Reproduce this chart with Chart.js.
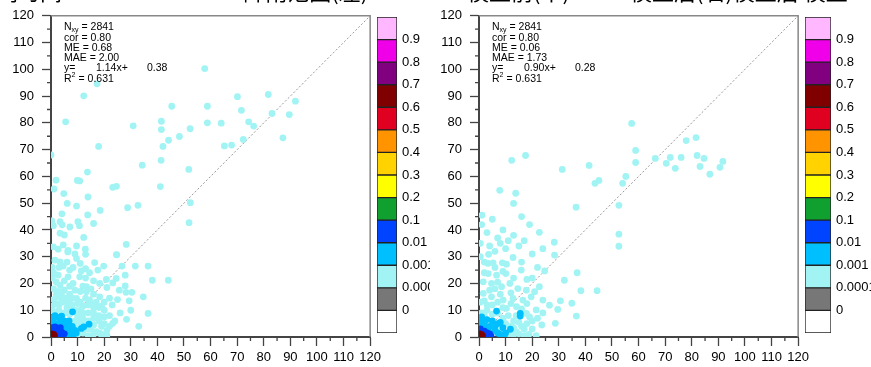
<!DOCTYPE html>
<html>
<head>
<meta charset="utf-8">
<script src="https://cdn.jsdelivr.net/npm/chart.js@4/dist/chart.umd.min.js"></script>
<style>
 body { margin:0; background:#fff; }
 #wrap { position:relative; width:871px; height:367px; overflow:hidden; background:#fff; }
 canvas { position:absolute; top:0; }
 .ttl { position:absolute; top:-21px; font:22px "Noto Sans CJK SC"; white-space:nowrap; color:#000; line-height:22px; z-index:10; }
</style>
</head>
<body>
<div id="wrap">
 <div class="ttl" style="left:-4px">同时间　2015-2018</div>
 <div class="ttl" style="left:196px">SOM降雨范围(左)</div>
 <div class="ttl" style="left:467px">模型前(中)</div>
 <div class="ttl" style="left:630px">模型后(右)模型后 模型</div>
 <canvas id="scL" width="385" height="367" style="left:0;z-index:1"></canvas>
 <canvas id="cbL" width="60" height="367" style="left:377px;z-index:2"></canvas>
 <canvas id="scR" width="383" height="367" style="left:430px;z-index:3;background:#fff"></canvas>
 <canvas id="cbR" width="66" height="367" style="left:805px;z-index:4"></canvas>
</div>
<script>
// ---------------- donnees ----------------
var axeTicks = [0, 10, 20, 30, 40, 50, 60, 70, 80, 90, 100, 110, 120];

// colorbar : du bas vers le haut
var barreCouleurs = ['#ffffff', '#777777', '#a2f4f4', '#00bfff', '#0044ff', '#10a030', '#ffff00',
                     '#ffd200', '#ff9400', '#e00020', '#800000', '#800080', '#f000e8', '#ffb8ff'];
var barreLabels = ['0', '0.0001', '0.001', '0.01', '0.1', '0.2', '0.3', '0.4', '0.5', '0.6', '0.7', '0.8', '0.9'];

// stats : N, cor, ME, MAE, pente, ordonnee, R2
var statsGauche = ['2841', '0.80', '0.68', '2.00', '1.14', '0.38', '0.631'];
var statsDroite = ['2841', '0.80', '0.06', '1.73', '0.90', '0.28', '0.631'];

var diagonale = [[0, 0], [120, 120]];

// panneau gauche
var gaucheRouge = [[0.5,0.5],[1,1],[0.3,1.2],[1.3,0.4],[0.8,0.2]];
var gaucheBleu = [[0.5,2.5],[1.5,2],[2.5,1.5],[3.5,0.8],[4.5,0.5],[2,0.5],[3,2.5],[1,3],[0.3,3.5],[4,1.8],
  [2.5,3.2],[5,1.2],[1.5,3.8],[3.5,3.5]];
var gaucheCiel = [[0.5,7],[2,7.5],[3.5,6.5],[5,6],[6.5,5],[8,4],[9,2.5],[8.5,1],[6,0.5],[7,3],[4,4],[1,5.5],
  [2.5,5],[5.5,2.5],[3,3.5],[8.1,9.4],[14.3,4.8],[11.4,3.2],[12.3,3.8],[7.5,0.3],[0.3,5],[6,4],[7.5,1.8],
  [5,4.5],[4,7.8],[1.5,8],[9.5,1.5],[6.8,6]];
var gaucheCyan = [[17.3,94.6],[12.3,90.1],[5.5,80.4],[0,68],[70.1,89.8],[81.7,90.6],[91.9,88.1],[45.4,86.2],
  [58.8,86.2],[71.6,84.7],[83.1,83.5],[89.6,83.1],[57.8,100.3],[30.9,78.9],[41.5,80.6],[41.5,77.5],[52.3,77.8],
  [58.8,80.0],[64.0,79.9],[74.3,80.4],[76.2,78.8],[48.3,74.9],[44.2,73.5],[72.3,73.8],[87.2,74.4],[42.1,71.2],
  [65.2,71.4],[67.9,71.7],[17.9,71.2],[41.4,66.0],[34.3,64.2],[51.8,62.6],[13.7,61.6],[1.9,58.6],[9.9,58.5],
  [10.8,58.3],[1.1,55.3],[4.8,53.6],[23.2,55.9],[24.6,56.3],[41.1,56.2],[13.9,52.3],[6.1,49.9],[9.6,48.9],
  [32.7,49.2],[28.8,48.3],[52.4,50.2],[18.5,47.3],[4.1,46.0],[13.8,45.6],[51.9,42.7],[16.0,42.4],[0.3,43.4],
  [0.9,41.6],[3.4,43.1],[4.2,41.9],[7.1,41.1],[10.1,43.1],[10.7,41.6],[3.4,38.8],[5.0,38.1],[12.3,37.2],
  [4.6,34.4],[9.6,34.0],[0.9,33.7],[2.7,32.8],[6.4,32.4],[12.9,32.8],[13.0,30.9],[28.3,34.6],[24.6,30.8],
  [6.3,31.8],[24.7,30.7],[1.5,28.7],[3.4,28.1],[9.6,29.3],[16.4,27.8],[19.8,26.5],[26.7,26.5],[31.7,26.5],
  [36.5,26.5],[4.6,26.5],[8.3,26.0],[11.4,24.7],[14.5,24.0],[17.6,25.0],[27.9,23.1],[10.8,22.5],[6.4,22.5],
  [2.7,23.1],[20.8,21.5],[24.5,21.9],[38.1,21.2],[44.1,21.2],[18.3,20.0],[23.2,20.2],[8.3,20.0],[3.4,19.4],
  [13.3,18.8],[27.9,19.1],[25.7,17.5],[28.2,16.7],[30.4,16.7],[34.7,15.0],[29.4,13.5],[2.7,15.0],[5.9,14.4],
  [9.6,14.4],[14.5,13.8],[18.3,15.0],[13.3,16.9],[36.5,8.8],[28.4,6.6],[23.2,5.1],[18.3,1.4],[21.0,0.7],
  [10,8],[12,7],[11,10],[14,9],[16,7],[18,8],[13,5],[15,3],[17,2],[19,4],[9,6],[10,1],[12,1.5],[7,8.5],[5,9],
  [3,10],[1,9.5],[0.5,11.5],[2,12.5],[6,11],[4,13],[8,12],[10,12.5],[12,11.5],[14,12],[16,11],[20,10],[22,8],
  [24,6],[19,1],[21,2.5],[7,16],[11,17],[16,16],[20,13],[23,12],[5,17.5],[1,18],[0.5,22],[0.5,26],[9,4.5],[11,5.5],
  [1,14],[3,12],[5,14.5],[7,12.5],[9,10],[11,13],[13,14.5],[15,12.5],[17,13],[19,11.5],[18,6],[20,5],[22,4],
  [16,1],[14,0.5],[12,3],[10,3],[14,6],[16,9],[18,11],[6,9.5],[8,10],[10,6.5],[12,9],[14,3],[16,4.5],[20,7.5],
  [2,16],[4,15.5],[8,14.5],[6,13],[3,17],[9,17.5],[12,19],[15,18],[7,19],[5,21],[2,20.5],[1,24],[3,26],
  [7,25],[6,28],[11,27.5],[13,22],[16,21],[21,18.5],[22,14.5],[25,14],[26,9],[30,10],[33,4],[13,25.5],[9,31]];

// panneau droit
var droiteRouge = [[0.5,0.5],[1,0.9],[1.3,0.3],[0.3,1.2],[0.8,0.2]];
var droiteBleu = [[0.5,2],[1.5,1.5],[2.5,0.8],[3.5,0.5],[4.5,0.4],[1,0.3],[3,1.5],[2,2.2],[0.5,3],[4,1.2]];
var droiteCiel = [[1,6],[3,6.5],[5,6],[7,5],[9,3.5],[10,1.5],[8,1],[6,2.5],[4,4],[2,3],[6.6,9.7],[15.5,7.8],
  [15.5,8.8],[11.8,2.9],[0.5,4.5],[8,5.5],[2,5],[6,4],[3.5,2.5],[9.5,0.5],[7,1.5],[1,7.5]];
var droiteCyan = [[57.4,79.8],[58.9,69.7],[58.9,65.2],[66.3,66.7],[70.4,64.9],[71.9,67.1],[76.0,67.1],[77.9,73.4],
  [81.6,74.5],[82.0,67.8],[84.6,66.7],[86.8,60.8],[91.7,65.6],[90.6,63.4],[83.1,63.7],[73.8,63.0],[55.2,60.0],
  [54.0,57.4],[52.6,49.2],[45.1,58.5],[43.6,57.4],[41.4,64.1],[31.3,62.6],[36.5,48.5],[28.3,35.4],[22.7,39.1],
  [12.3,66.0],[17.5,67.8],[13.8,53.7],[13.0,49.9],[7.8,54.8],[1.1,45.5],[52.6,38.4],[52.6,33.9],
  [1,42],[3,39],[5,44],[7,37],[9,40],[11,36],[4,34],[6,32],[8,35],[10,33],[13,38],[15,34],[17,36],[19,42],
  [16,45],[20,31],[24,33],[3.6,30.9],[12.8,29.7],[28.4,30.6],[15.9,25],[24.7,24.7],[36.9,24.0],[32.1,21.2],
  [38.3,17.3],[44.4,17.3],[34.9,12.6],[29.6,10.3],[30.6,13.5],[36.6,7.8],[28.7,5.1],[23.6,4.5],[21.5,0.5],
  [18.8,1.0],[3.4,27.5],[5.3,27.7],[8.8,27.7],[10.3,27.2],[3.5,23.7],[6.6,23.1],[10.1,23.7],[1.6,20.6],
  [4.7,20.0],[8.5,18.8],[11.6,20.0],[14.6,18.1],[17.8,17.5],[20.9,16.9],[22.7,18.8],[19.6,15.0],[16.5,13.8],
  [12.8,14.4],[9.1,13.8],[4.7,15.0],[1.6,16.3],[3.1,11.9],[10.3,10.7],[14.1,11.3],[24,13.8],[26.5,11.9],
  [17.8,8.8],[21.5,10.1],[7,9],[9,7],[11,8],[13,6],[12,4],[14,2],[16,4],[18,5],[20,6],[11,1],[13,0.8],
  [15,1.2],[1,9],[3,10],[5,12],[7,13],[0.5,13],[2,8],[20,3],[17,0.5],[8,16],[6,18],[2,24],[0.5,30],[0.5,35],
  [5,8.5],[9,11],[12,12.5],[14,8],[16,10.5],[18,12.5],[19,7.5],[22,7],[24,9],[12,16.5],[10,5],[8,3],[13,3.5],
  [15,5.5],[17,3],[2,13.5],[4,17.5],[7,20.5],[2,28],[6,26],[9,24.5],[13,22],[18,21.5],[16,28],[20,22],[22,26]];

// ---------------- fonctions ----------------
var police = '"Liberation Sans", Arial, sans-serif';

function pts(liste) {
    var res = [];
    for (var i = 0; i < liste.length; i++) {
        res.push({ x: liste[i][0], y: liste[i][1] });
    }
    return res;
}

function nuage(liste, couleur) {
    return {
        data: pts(liste),
        backgroundColor: couleur,
        borderWidth: 0,
        pointRadius: 3.4,
        pointHoverRadius: 3.4
    };
}

// cadre + petites graduations + texte des stats
var cadrePlugin = {
    id: 'cadre',
    afterDraw: function (chart) {
        var ctx = chart.ctx, a = chart.chartArea;
        var sx = chart.scales.x, sy = chart.scales.y;
        ctx.save();
        ctx.strokeStyle = '#888';
        ctx.lineWidth = 1.5;
        ctx.beginPath();
        ctx.moveTo(a.left, a.top);
        ctx.lineTo(a.right, a.top);
        ctx.lineTo(a.right, a.bottom);
        ctx.stroke();
        // graduations mineures
        ctx.strokeStyle = '#444';
        ctx.lineWidth = 1.3;
        ctx.beginPath();
        for (var v = 5; v < 120; v += 10) {
            var px = sx.getPixelForValue(v), py = sy.getPixelForValue(v);
            ctx.moveTo(px, a.bottom); ctx.lineTo(px, a.bottom + 4);
            ctx.moveTo(a.left, py); ctx.lineTo(a.left - 4, py);
        }
        ctx.stroke();
        // stats
        var s = chart.options.plugins.cadre.stats;
        var x0 = a.left + 13;
        ctx.fillStyle = '#000';
        ctx.textBaseline = 'middle';
        ctx.font = '10.5px ' + police;
        ctx.fillText('N', x0, 27);
        var w = ctx.measureText('N').width;
        ctx.font = '7px ' + police;
        ctx.fillText('xy', x0 + w, 30);
        var w2 = ctx.measureText('xy').width;
        ctx.font = '10.5px ' + police;
        ctx.fillText(' = ' + s[0], x0 + w + w2, 27);
        ctx.fillText('cor = ' + s[1], x0, 38.5);
        ctx.fillText('ME = ' + s[2], x0, 48.5);
        ctx.fillText('MAE = ' + s[3], x0, 58.5);
        ctx.fillText('y=', x0, 68.5);
        ctx.fillText(s[4] + 'x+', x0 + 32, 68.5);
        ctx.fillText(s[5], x0 + 83, 68.5);
        ctx.fillText('R', x0, 79);
        var wr = ctx.measureText('R').width;
        ctx.font = '7px ' + police;
        ctx.fillText('2', x0 + wr, 75);
        ctx.font = '10.5px ' + police;
        ctx.fillText(' = ' + s[6], x0 + wr + 4, 79);
        ctx.restore();
    }
};

function axe(largeur, estX) {
    return {
        type: 'linear',
        min: 0,
        max: 120,
        afterBuildTicks: function (scale) {
            scale.ticks = axeTicks.map(function (v) { return { value: v }; });
        },
        ticks: { color: '#000', font: { family: police, size: 13 }, padding: estX ? 4 : 8, maxRotation: 0, autoSkip: false },
        grid: { drawOnChartArea: false, drawTicks: true, tickLength: 9, tickColor: '#444', tickWidth: 1.3 },
        border: { color: '#444', width: 2 },
        afterFit: function (scale) {
            if (estX) scale.height = 30; else scale.width = largeur;
        }
    };
}

function AfficheNuage(id, rouge, bleu, ciel, cyan, stats, largeurY) {
    return new Chart(document.getElementById(id), {
        type: 'scatter',
        data: {
            datasets: [
                nuage(rouge, '#800000'),
                nuage(bleu, '#0044ff'),
                nuage(ciel, '#00bfff'),
                nuage(cyan, '#a2f4f4'),
                {
                    type: 'line',
                    data: pts(diagonale),
                    borderColor: '#999',
                    borderWidth: 1,
                    borderDash: [2, 2],
                    pointRadius: 0,
                    fill: false
                }
            ]
        },
        options: {
            responsive: false,
            animation: false,
            layout: { padding: { top: 15, right: 12, left: 0, bottom: 0 } },
            plugins: { legend: { display: false }, tooltip: { enabled: false }, cadre: { stats: stats } },
            scales: { x: axe(0, true), y: axe(largeurY, false) }
        },
        plugins: [cadrePlugin]
    });
}

function AfficheBarre(id) {
    var ds = [];
    for (var i = 0; i < barreCouleurs.length; i++) {
        ds.push({
            data: [1],
            backgroundColor: barreCouleurs[i],
            borderColor: '#222',
            borderWidth: 1,
            borderSkipped: false,
            categoryPercentage: 1,
            barPercentage: 1
        });
    }
    return new Chart(document.getElementById(id), {
        type: 'bar',
        data: { labels: [''], datasets: ds },
        options: {
            responsive: false,
            animation: false,
            layout: { padding: { top: 17, bottom: 34, left: 0, right: 0 } },
            plugins: { legend: { display: false }, tooltip: { enabled: false } },
            scales: {
                x: { stacked: true, display: false },
                y: {
                    stacked: true,
                    position: 'right',
                    min: 0,
                    max: barreCouleurs.length,
                    grid: { display: false, drawTicks: false },
                    border: { display: false },
                    ticks: {
                        stepSize: 1,
                        autoSkip: false,
                        padding: 5,
                        color: '#000',
                        font: { family: police, size: 13 },
                        callback: function (v) { return barreLabels[v - 1] || ''; }
                    },
                    afterFit: function (scale) { scale.width = 40; }
                }
            }
        }
    });
}

AfficheNuage('scL', gaucheRouge, gaucheBleu, gaucheCiel, gaucheCyan, statsGauche, 51);
AfficheNuage('scR', droiteRouge, droiteBleu, droiteCiel, droiteCyan, statsDroite, 49);
AfficheBarre('cbL');
AfficheBarre('cbR');
</script>
</body>
</html>
